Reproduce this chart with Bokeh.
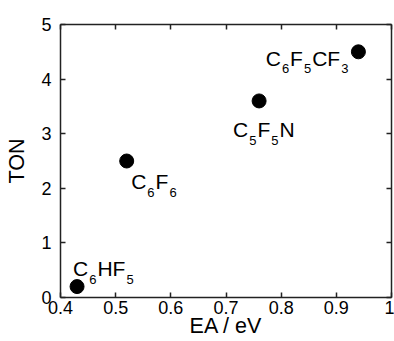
from bokeh.plotting import figure
from bokeh.models import (ColumnDataSource, LinearAxis, FixedTicker, NumeralTickFormatter,
                          CustomJSTickFormatter, Range1d)
from bokeh.core.properties import value
from bokeh.embed import file_html
from bokeh.resources import INLINE

# ---- data ----
ea = [0.43, 0.52, 0.76, 0.94]
ton = [0.2, 2.5, 3.6, 4.5]
names = [
    [("C", 0), ("6", 1), ("HF", 0), ("5", 1)],
    [("C", 0), ("6", 1), ("F", 0), ("6", 1)],
    [("C", 0), ("5", 1), ("F", 0), ("5", 1), ("N", 0)],
    [("C", 0), ("6", 1), ("F", 0), ("5", 1), ("CF", 0), ("3", 1)],
]
x_ticks = [0.4, 0.5, 0.6, 0.7, 0.8, 0.9, 1.0]
y_ticks = [0, 1, 2, 3, 4, 5]

# ---- label layout (pixel offsets of label start/baseline relative to point) ----
label_anchor = [("left", -4, -18), ("left", 4.5, 20.5), ("left", -26, 29), ("right", -10, 6.5)]
MAIN, SUB, SUB_DROP, GAP = 21, 13, 10.5, 1.0
W = {"C": 0.722, "F": 0.611, "H": 0.722, "N": 0.722}
def seg_width(s, sub):
    size = SUB if sub else MAIN
    return sum(W.get(ch, 0.556) for ch in s) * size + GAP

main = dict(x=[], y=[], t=[], xo=[], yo=[])
subs = dict(x=[], y=[], t=[], xo=[], yo=[])
for xv, yv, parts, (al, dx, dy) in zip(ea, ton, names, label_anchor):
    total = sum(seg_width(s, b) for s, b in parts) - GAP
    cur = dx if al == "left" else dx - total
    for s, b in parts:
        d = subs if b else main
        d["x"].append(xv); d["y"].append(yv); d["t"].append(s)
        d["xo"].append(cur); d["yo"].append(dy + (SUB_DROP if b else 0))
        cur += seg_width(s, b)

FONT = "Liberation Sans"
AX = "#222222"

p = figure(width=394, height=341, x_range=Range1d(0.4, 1.0), y_range=Range1d(0, 5),
           output_backend="svg", toolbar_location=None,
           min_border_left=60, min_border_right=3, min_border_top=24, min_border_bottom=44)
p.grid.grid_line_color = None
p.outline_line_color = None
p.background_fill_color = "white"
p.border_fill_color = "white"

def style_axis(ax, ticks):
    ax.ticker = FixedTicker(ticks=ticks)
    ax.axis_line_color = AX
    ax.axis_line_width = 1.5
    ax.major_tick_line_color = AX
    ax.major_tick_line_width = 1.5
    ax.major_tick_in = 5
    ax.major_tick_out = 0
    ax.minor_tick_line_color = None
    ax.major_label_text_font = FONT
    ax.major_label_text_font_size = "18px"
    ax.major_label_text_color = "black"

style_axis(p.xaxis[0], x_ticks)
style_axis(p.yaxis[0], y_ticks)
p.xaxis[0].formatter = NumeralTickFormatter(format="0.[0]")
p.xaxis[0].major_label_standoff = 3
p.yaxis[0].major_label_standoff = 9
p.xaxis[0].axis_label = "EA / eV"
p.yaxis[0].axis_label = "TON"
for ax in (p.xaxis[0], p.yaxis[0]):
    ax.axis_label_text_font = FONT
    ax.axis_label_text_font_size = "21.5px"
    ax.axis_label_text_font_style = "normal"
    ax.axis_label_text_color = "black"
p.xaxis[0].axis_label_standoff = -3
p.yaxis[0].axis_label_standoff = 9

top = LinearAxis()
right = LinearAxis()
style_axis(top, x_ticks)
style_axis(right, y_ticks)
for ax in (top, right):
    ax.formatter = CustomJSTickFormatter(code="return ''")
    ax.major_label_standoff = 0
p.add_layout(top, "above")
p.add_layout(right, "right")

p.scatter(ea, ton, size=14, color="black")

p.text(x="x", y="y", text="t", x_offset="xo", y_offset="yo", source=ColumnDataSource(main),
       text_font=value(FONT), text_font_size="21px", text_baseline="alphabetic", text_color="black")
p.text(x="x", y="y", text="t", x_offset="xo", y_offset="yo", source=ColumnDataSource(subs),
       text_font=value(FONT), text_font_size="13px", text_baseline="alphabetic", text_color="black")

open("out.html", "w").write(file_html(p, INLINE))
